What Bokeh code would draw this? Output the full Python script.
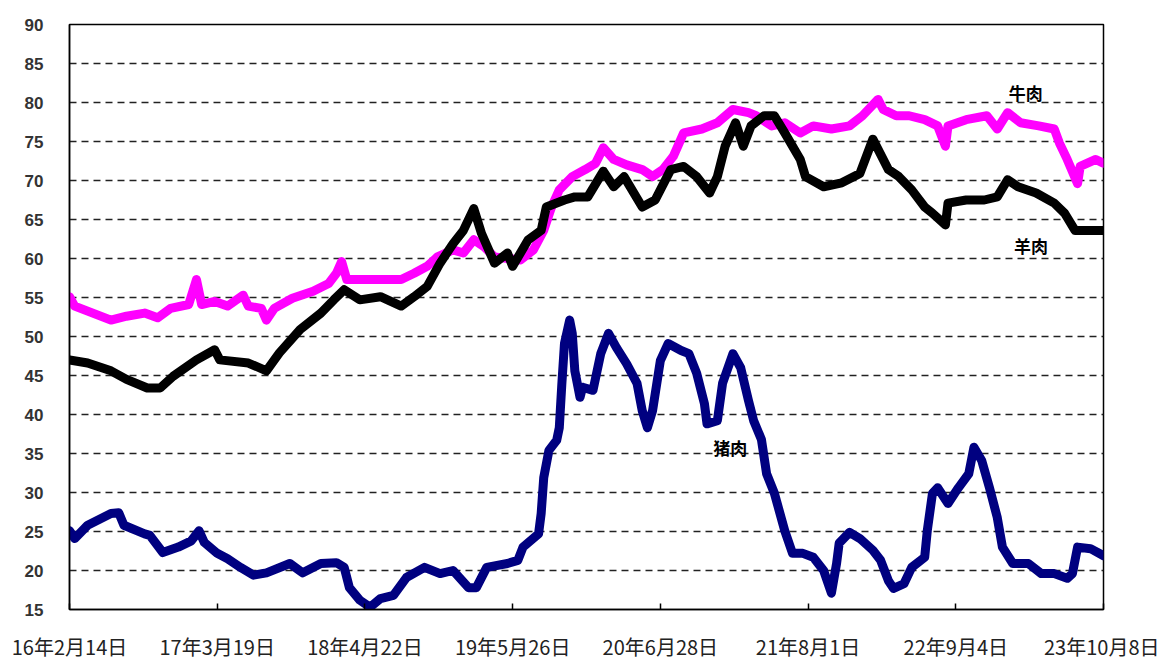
from bokeh.plotting import figure
from bokeh.models import FixedTicker, Label, Range1d
from bokeh.embed import file_html
from bokeh.resources import INLINE

# weeks counted from 2016-02-14 (weekly data)
TICK_WEEKS = [0, 57, 114, 171, 228, 285, 342, 399]
TICK_LABELS = ["16年2月14日", "17年3月19日", "18年4月22日", "19年5月26日",
               "20年6月28日", "21年8月1日", "22年9月4日", "23年10月8日"]

pork_weeks = [0, 2, 7, 16, 19, 21, 29, 31, 36, 42, 47, 50, 52, 57, 61, 66, 71, 76, 85, 90,
              97, 103, 106, 108, 112, 116, 120, 125, 130, 137, 143, 148, 154, 157, 161, 169,
              173, 175, 181, 182, 183, 185, 188, 189, 190, 191, 193, 194, 195, 197, 198, 202,
              205, 208, 211, 215, 219, 221, 223, 225, 228, 231, 236, 239, 242, 245, 246, 250,
              252, 256, 259, 262, 264, 267, 269, 272, 276, 279, 283, 287, 291, 294, 296, 297,
              301, 305, 310, 313, 316, 318, 322, 325, 330, 331, 333, 335, 339, 343, 347, 349,
              352, 355, 358, 360, 364, 370, 375, 380, 385, 387, 389, 394, 399]
pork = [25.1, 24.1, 25.8, 27.3, 27.4, 25.8, 24.7, 24.5, 22.3, 23.0, 23.8, 25.1, 23.6, 22.2,
        21.5, 20.4, 19.4, 19.7, 20.9, 19.7, 20.9, 21.0, 20.4, 17.8, 16.2, 15.3, 16.4, 16.8,
        19.1, 20.4, 19.6, 20.0, 17.8, 17.8, 20.4, 20.9, 21.3, 23.0, 24.7, 27.3, 31.9, 35.4,
        36.7, 38.3, 44.0, 49.1, 52.1, 50.4, 45.6, 42.2, 43.5, 43.1, 47.8, 50.4, 48.6, 46.5,
        44.0, 40.5, 38.3, 40.5, 46.9, 49.1, 48.2, 47.8, 45.3, 41.4, 38.8, 39.2, 44.0, 47.8,
        46.0, 41.8, 39.2, 36.8, 32.4, 29.9, 25.1, 22.2, 22.2, 21.7, 20.0, 17.1, 20.9, 23.5,
        24.9, 24.1, 22.6, 21.3, 18.7, 17.7, 18.3, 20.4, 21.7, 25.1, 29.9, 30.6, 28.6, 30.6,
        32.4, 35.8, 34.1, 30.6, 26.8, 23.0, 20.9, 20.9, 19.6, 19.6, 19.0, 19.6, 23.0, 22.8,
        21.9]

mutton_weeks = [0, 7, 16, 22, 30, 35, 40, 49, 56, 58, 69, 76, 81, 89, 97, 102, 106, 112, 120,
                128, 133, 138, 143, 148, 152, 156, 159, 164, 169, 171, 177, 182, 184, 191, 195,
                200, 206, 210, 214, 221, 226, 232, 237, 242, 247, 250, 253, 257, 260, 263, 268,
                272, 276, 282, 284, 291, 298, 305, 310, 316, 320, 325, 330, 333, 338, 339, 346,
                353, 358, 362, 366, 373, 380, 384, 388, 393, 399]
mutton = [47.0, 46.6, 45.6, 44.5, 43.4, 43.4, 44.9, 47.0, 48.3, 47.0, 46.6, 45.6, 47.9, 50.9,
          53.0, 54.7, 56.0, 54.7, 55.1, 53.9, 55.1, 56.4, 59.4, 61.9, 63.6, 66.4, 63.2, 59.4,
          60.7, 59.0, 62.4, 63.6, 66.6, 67.5, 67.9, 67.9, 71.2, 69.2, 70.5, 66.6, 67.5, 71.4,
          71.8, 70.5, 68.4, 70.5, 74.4, 77.4, 74.4, 77.0, 78.3, 78.3, 76.1, 72.7, 70.5, 69.2,
          69.7, 70.9, 75.3, 71.4, 70.5, 68.8, 66.6, 65.8, 64.3, 67.1, 67.5, 67.5, 67.9, 70.1,
          69.2, 68.4, 67.1, 65.8, 63.6, 63.6, 63.6]

beef_weeks = [0, 2, 9, 16, 22, 29, 34, 39, 46, 49, 51, 56, 61, 67, 69, 74, 76, 79, 86, 94, 100,
              103, 105, 107, 112, 120, 128, 133, 138, 142, 148, 152, 156, 160, 164, 174, 179,
              183, 186, 189, 194, 199, 203, 206, 210, 215, 221, 225, 229, 233, 237, 244, 250,
              256, 262, 265, 271, 276, 282, 287, 294, 301, 306, 312, 314, 319, 324, 330, 335,
              338, 339, 346, 354, 358, 362, 367, 374, 380, 382, 385, 389, 390, 396, 399]
beef = [55.1, 53.9, 53.0, 52.1, 52.6, 53.0, 52.4, 53.6, 54.1, 57.3, 54.1, 54.5, 53.9, 55.3,
        53.9, 53.6, 52.1, 53.6, 54.9, 55.8, 56.8, 58.1, 59.6, 57.3, 57.3, 57.3, 57.3, 58.1,
        59.0, 60.2, 61.1, 60.7, 62.4, 61.5, 60.2, 59.8, 61.1, 63.6, 66.6, 68.8, 70.5, 71.4,
        72.2, 74.2, 72.7, 72.0, 71.4, 70.5, 71.4, 73.1, 76.1, 76.6, 77.4, 79.1, 78.7, 78.3,
        77.0, 77.4, 76.1, 77.0, 76.6, 77.0, 78.3, 80.4, 79.1, 78.3, 78.3, 77.8, 77.0, 74.4,
        77.0, 77.8, 78.3, 76.6, 78.7, 77.4, 77.0, 76.6, 74.8, 72.7, 69.6, 71.8, 72.7, 72.2]

SERIES_LABELS = ["牛肉", "羊肉", "猪肉"]
LABEL_POS = [(369, 81.3), (371, 61.7), (255, 35.8)]

p = figure(width=1159, height=663, x_range=Range1d(0, 399), y_range=Range1d(15, 90),
           output_backend="svg", toolbar_location=None,
           min_border_left=69, min_border_right=56, min_border_top=24, min_border_bottom=54)
p.background_fill_color = "white"
p.border_fill_color = "white"
p.outline_line_color = "black"
p.outline_line_width = 1.5

p.line(pork_weeks, pork, line_color="#000080", line_width=9, line_join="round", line_cap="round")
p.line(beef_weeks, beef, line_color="#FF00FF", line_width=9, line_join="round", line_cap="round")
p.line(mutton_weeks, mutton, line_color="black", line_width=9, line_join="round", line_cap="round")

p.xgrid.visible = False
p.ygrid.ticker = FixedTicker(ticks=list(range(20, 90, 5)))
p.ygrid.grid_line_color = "#222222"
p.ygrid.grid_line_dash = "7 5"
p.ygrid.grid_line_width = 1.5

p.yaxis.ticker = FixedTicker(ticks=list(range(15, 95, 5)))
p.yaxis.major_tick_out = 0
p.yaxis.major_tick_in = 0
p.yaxis.minor_tick_out = 0
p.yaxis.minor_tick_in = 0
p.yaxis.axis_line_width = 1.5
p.yaxis.major_label_standoff = 26
p.yaxis.major_label_text_font = "Liberation Sans"
p.yaxis.major_label_text_font_style = "bold"
p.yaxis.major_label_text_font_size = "17px"
p.yaxis.major_label_text_color = "#333333"

p.xaxis.ticker = FixedTicker(ticks=TICK_WEEKS)
p.xaxis.major_label_overrides = {w: lab for w, lab in zip(TICK_WEEKS, TICK_LABELS)}
p.xaxis.major_tick_out = 0
p.xaxis.major_tick_in = 6
p.xaxis.minor_tick_out = 0
p.xaxis.minor_tick_in = 0
p.xaxis.axis_line_width = 1.5
p.xaxis.major_tick_line_width = 1.5
p.xaxis.major_label_standoff = 22
p.xaxis.major_label_text_font = "Noto Sans CJK SC"
p.xaxis.major_label_text_font_size = "20px"
p.xaxis.major_label_text_color = "#222222"

for txt, (lx, ly) in zip(SERIES_LABELS, LABEL_POS):
    p.add_layout(Label(x=lx, y=ly, text=txt, text_align="center", text_baseline="middle",
                       text_font="Noto Sans CJK SC", text_font_style="bold",
                       text_font_size="17px", text_color="black"))

open("out.html", "w").write(file_html(p, INLINE))
